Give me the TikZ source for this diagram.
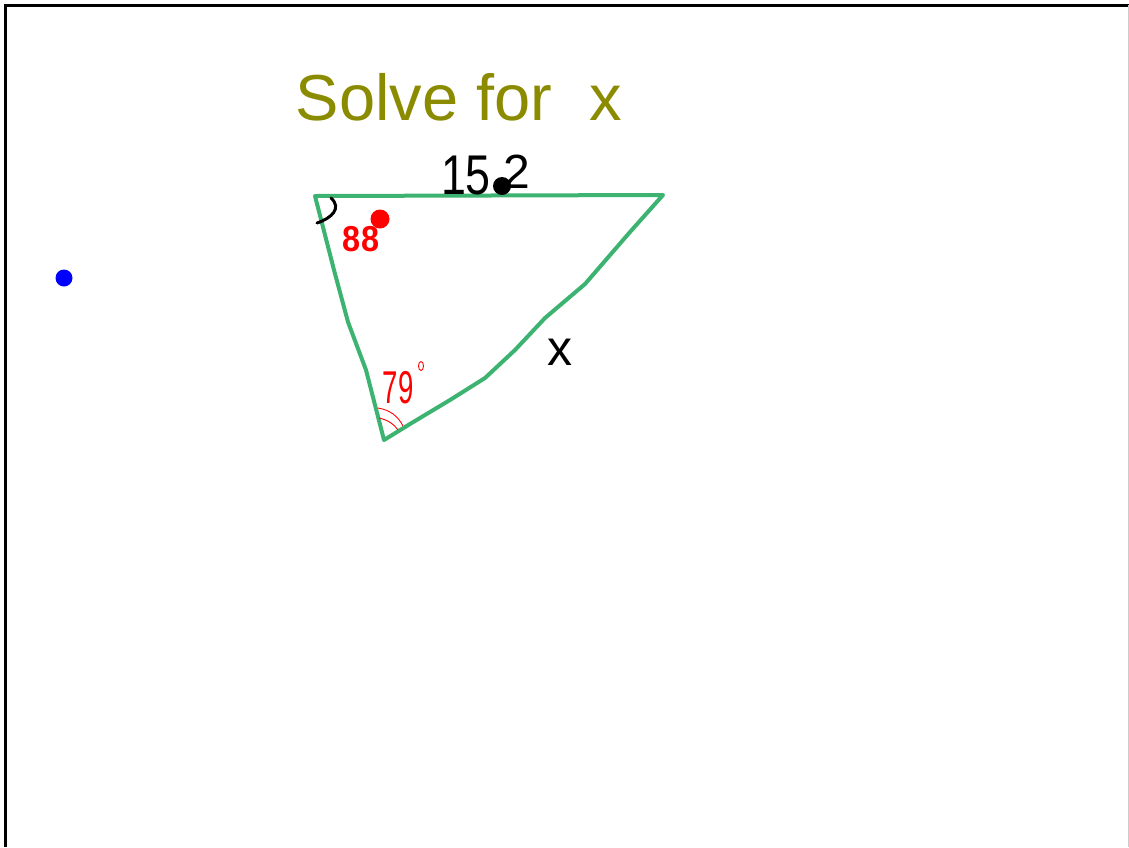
\documentclass[tikz,border=0pt]{standalone}
\usepackage{fontspec}
\setmainfont{Liberation Sans}
\usepackage{xcolor}
\definecolor{olivehand}{RGB}{139,139,0}
\definecolor{trigreen}{RGB}{60,179,113}

\begin{document}
\begin{tikzpicture}[x=1pt,y=-1pt]
\useasboundingbox (0,0) rectangle (1129,847);
\fill[white] (0,0) rectangle (1129,847);
% frame
\draw[line width=3pt] (5,847) -- (5,5) -- (1129,5);
\draw[gray!40,line width=1pt] (1128,5) -- (1128,847);
% title
\node[text=olivehand,font=\fontsize{65}{65}\selectfont] (title) at (459,97) {Solve for \hspace{0.3em}x};
% triangle
\coordinate (A) at (315,196); \coordinate (B) at (663,195); \coordinate (C) at (384,440);
\draw[trigreen,line width=4pt,line join=round,line cap=round] (A) -- (B)
  -- (630,232) -- (585,284) -- (545,318) -- (515,350) -- (485,378) -- (450,400) -- (410,424) -- (C)
  -- (366,370) -- (348,322) -- (334,270) -- cycle;
% angle marks
\draw[line width=3pt,line cap=round] (331,198) .. controls (342,208) and (332,218) .. (317,223);
\draw[red,line width=0.9pt] (378,408) .. controls (390,410) and (398,416) .. (403,426);
\draw[red,line width=0.9pt] (379,418) .. controls (388,420) and (394,424) .. (398,430);
% labels
\node[font=\fontsize{56}{56}\selectfont,xscale=0.8] (top15) at (466,176) {15};
\node[font=\fontsize{48}{48}\selectfont] (top2) at (517,172) {2};
\fill (502,186) circle (9);
\node[text=red,font=\fontsize{36}{36}\selectfont\bfseries,xscale=0.9] (angA) at (361,239) {88};
\fill[red] (380,219) circle (9.5);
\node[text=red,font=\fontsize{46}{46}\selectfont,xscale=0.6] (angC) at (398,388) {79};
\draw[red,line width=0.9pt] (421,366) ellipse (2.5 and 4.5);
\node[font=\fontsize{50}{50}\selectfont] (side) at (560,352) {x};
\fill[blue] (64,278) circle (8.5);
\end{tikzpicture}
\end{document}
